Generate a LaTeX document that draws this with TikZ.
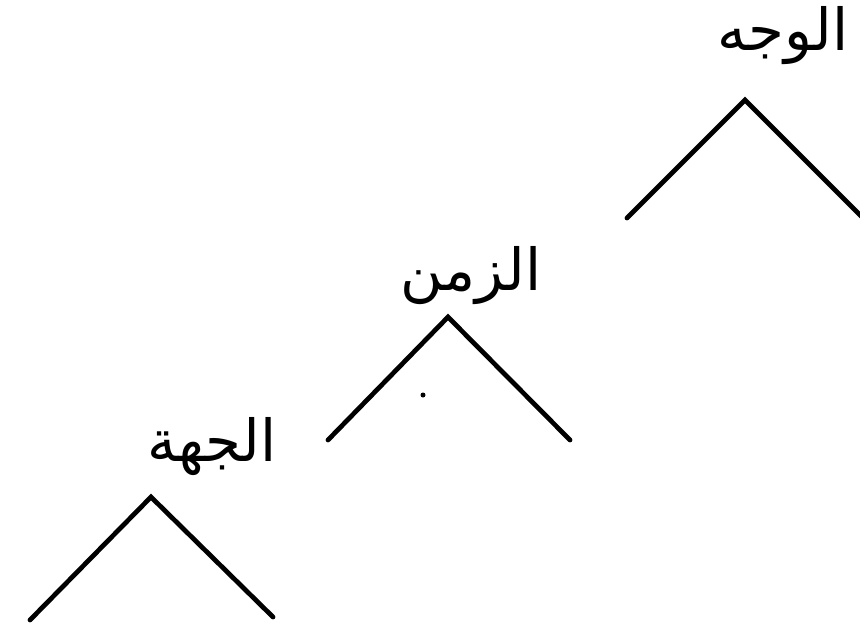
\documentclass[tikz,border=0pt]{standalone}
\usepackage{fontspec}
\newfontfamily\arabicfont[Script=Arabic]{DejaVu Sans}
\TeXXeTstate=1

\begin{document}
\begin{tikzpicture}[x=0.02cm, y=-0.02cm, line width=2.7pt, line cap=round, line join=miter,
  word/.style={font=\arabicfont\fontsize{33}{40}\selectfont, inner sep=0pt}]
  \useasboundingbox (0,0) rectangle (860,633);
  % الوجه (أعلى اليمين)
  \coordinate (wA) at (745,100);
  \coordinate (wL) at (627,218);
  \coordinate (wR) at (875,230);
  % الزمن (الوسط)
  \coordinate (zA) at (448,317);
  \coordinate (zL) at (328,440);
  \coordinate (zR) at (570,440);
  % الجهة (أسفل اليسار)
  \coordinate (jA) at (151,497);
  \coordinate (jL) at (30,620);
  \coordinate (jR) at (273,617);
  \draw (wL)--(wA)--(wR);
  \draw (zL)--(zA)--(zR);
  \draw (jL)--(jA)--(jR);
  \fill (423,395) circle (2.5);
  \node[word] (wajh) at (783,36) {\beginR الوجه\endR};
  \node[word] (zaman) at (471,276) {\beginR الزمن\endR};
  \node[word] (jiha) at (212,447) {\beginR الجهة\endR};
\end{tikzpicture}
\end{document}
